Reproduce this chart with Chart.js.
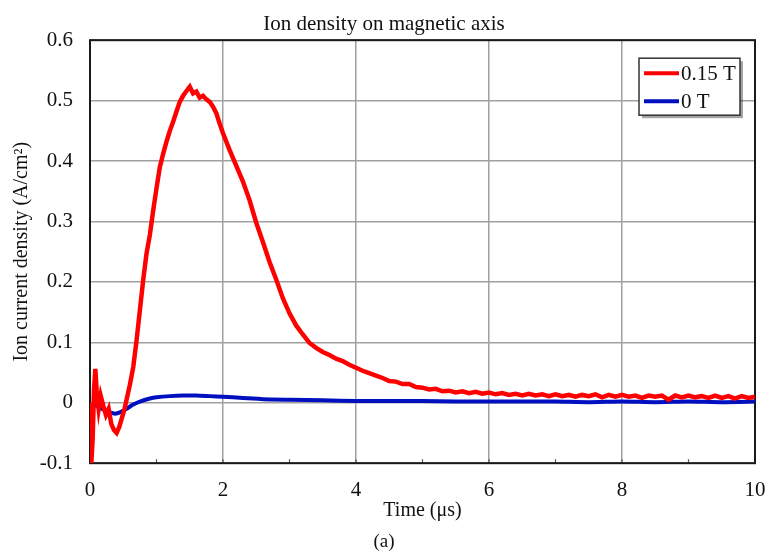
<!DOCTYPE html>
<html lang="en">
<head>
    <meta charset="UTF-8">
    <title>Ion density on magnetic axis</title>
    <script src="https://cdn.jsdelivr.net/npm/chart.js"></script>
    <style>
        body {
            margin: 0;
            background: white;
        }
        #wrap {
            width: 768px;
            height: 553px;
        }
    </style>
</head>
<body>
    <div id="wrap"><canvas id="ionChart"></canvas></div>

    <script>
        // 0.15 T trace (time in microseconds, current density in A/cm2)
        const timeRed = [
            0, 0.02, 0.04, 0.06, 0.08, 0.1, 0.13, 0.16, 0.2, 0.24, 0.28, 0.32, 0.36, 0.4, 0.44, 0.48,
            0.52, 0.56, 0.6, 0.65, 0.7, 0.75, 0.8, 0.85, 0.9, 0.95, 1.0, 1.05, 1.1, 1.15, 1.2, 1.25,
            1.3, 1.35, 1.4, 1.45, 1.5, 1.55, 1.6, 1.65, 1.7, 1.75, 1.8, 1.85, 1.9, 1.95, 2.0, 2.1,
            2.2, 2.3, 2.4, 2.5, 2.6, 2.7, 2.8, 2.9, 3.0, 3.1, 3.2, 3.3, 3.4, 3.5, 3.6, 3.7, 3.8, 3.9,
            4.0, 4.1, 4.2, 4.3, 4.4, 4.5, 4.6, 4.7, 4.8, 4.9, 5.0, 5.1, 5.2, 5.3, 5.4, 5.5, 5.6, 5.7,
            5.8, 5.9, 6.0, 6.1, 6.2, 6.3, 6.4, 6.5, 6.6, 6.7, 6.8, 6.9, 7.0, 7.1, 7.2, 7.3, 7.4, 7.5,
            7.6, 7.7, 7.8, 7.9, 8.0, 8.1, 8.2, 8.3, 8.4, 8.5, 8.6, 8.7, 8.8, 8.9, 9.0, 9.1, 9.2, 9.3,
            9.4, 9.5, 9.6, 9.7, 9.8, 9.9, 10.0
        ];
        const ionRed = [
            0.0, -0.1, -0.06, 0.02, 0.056, 0.02, -0.01, 0.012, -0.005, -0.02, -0.01, -0.035, -0.045, -0.05, -0.04, -0.025,
            -0.01, 0.01, 0.03, 0.059, 0.103, 0.153, 0.203, 0.247, 0.278, 0.318, 0.355, 0.39, 0.412, 0.432, 0.45, 0.465,
            0.482, 0.498, 0.508, 0.516, 0.523, 0.512, 0.515, 0.505, 0.508, 0.502, 0.498, 0.49, 0.479, 0.462, 0.446, 0.418,
            0.392, 0.366, 0.335, 0.298, 0.266, 0.233, 0.204, 0.173, 0.148, 0.128, 0.113, 0.099, 0.091, 0.084, 0.079, 0.073, 0.069, 0.063,
            0.058, 0.053, 0.049, 0.045, 0.041, 0.036, 0.035, 0.031, 0.031, 0.026, 0.025, 0.022, 0.023, 0.019, 0.020, 0.017, 0.019, 0.016,
            0.018, 0.015, 0.017, 0.014, 0.016, 0.013, 0.015, 0.012, 0.015, 0.012, 0.014, 0.011, 0.014, 0.011, 0.013, 0.010, 0.013, 0.011,
            0.014, 0.009, 0.013, 0.010, 0.013, 0.010, 0.012, 0.008, 0.012, 0.010, 0.012, 0.005, 0.012, 0.009, 0.012, 0.009, 0.011, 0.008,
            0.012, 0.008, 0.011, 0.007, 0.011, 0.008, 0.010
        ];

        // 0 T trace
        const timeBlue = [
            0, 0.03, 0.06, 0.1, 0.15, 0.2, 0.3, 0.38, 0.45, 0.55, 0.65, 0.75, 0.9, 1.0, 1.2, 1.4,
            1.6, 1.8, 2.0, 2.3, 2.6, 3.0, 3.5, 4.0, 4.5, 5.0, 5.5, 6.0, 6.5, 7.0, 7.5, 8.0, 8.5, 9.0, 9.5, 10.0
        ];
        const ionBlue = [
            -0.03, -0.012, -0.003, -0.005, -0.009, -0.011, -0.016, -0.018, -0.016, -0.01, -0.003, 0.002, 0.007, 0.009, 0.011, 0.012,
            0.012, 0.011, 0.010, 0.008, 0.006, 0.005, 0.004, 0.003, 0.003, 0.003, 0.002, 0.002, 0.002, 0.002, 0.001, 0.002, 0.001, 0.002, 0.001, 0.002
        ];

        const seriesLabels = ["0.15 T", "0 T"];
        const xTicks = [0, 2, 4, 6, 8, 10];
        const yTicks = [-0.1, 0, 0.1, 0.2, 0.3, 0.4, 0.5, 0.6];

        const serif = "'Liberation Serif', 'Times New Roman', serif";

        function toPoints(xs, ys) {
            return xs.map((x, i) => ({ x: x, y: ys[i] }));
        }

        // frame round the plot + small inner ticks on the time axis
        const framePlugin = {
            id: "frame",
            beforeDatasetsDraw(chart) {
                const { ctx, chartArea: a, scales } = chart;
                ctx.save();
                ctx.strokeStyle = "#555";
                ctx.lineWidth = 1.2;
                scales.x.ticks.forEach(t => {
                    const px = scales.x.getPixelForValue(t.value);
                    ctx.beginPath();
                    ctx.moveTo(px, a.bottom);
                    ctx.lineTo(px, a.bottom - 4);
                    ctx.stroke();
                });
                ctx.strokeStyle = "#1a1a1a";
                ctx.lineWidth = 2;
                ctx.strokeRect(a.left, a.top, a.right - a.left, a.bottom - a.top);
                ctx.restore();
            }
        };

        // boxed legend in the upper right of the plot
        const legendBox = {
            id: "legendBox",
            afterDatasetsDraw(chart) {
                const { ctx, chartArea: a } = chart;
                const x = a.right - 116, y = a.top + 18, w = 101, h = 57;
                ctx.save();
                ctx.fillStyle = "rgba(0,0,0,0.35)";
                ctx.fillRect(x + 3, y + 3, w, h);
                ctx.fillStyle = "white";
                ctx.fillRect(x, y, w, h);
                ctx.strokeStyle = "#333";
                ctx.lineWidth = 1.5;
                ctx.strokeRect(x, y, w, h);
                ctx.font = "21px " + serif;
                ctx.textBaseline = "middle";
                chart.data.datasets.forEach((ds, i) => {
                    const ly = y + 15 + i * 28;
                    ctx.strokeStyle = ds.borderColor;
                    ctx.lineWidth = 4;
                    ctx.beginPath();
                    ctx.moveTo(x + 5, ly);
                    ctx.lineTo(x + 40, ly);
                    ctx.stroke();
                    ctx.fillStyle = "#111";
                    ctx.fillText(ds.label, x + 42, ly + 1);
                });
                ctx.restore();
            }
        };

        const chart = new Chart(document.getElementById("ionChart"), {
            type: "line",
            data: {
                datasets: [
                    {
                        label: seriesLabels[0],
                        data: toPoints(timeRed, ionRed),
                        borderColor: "#ff0000",
                        borderWidth: 4.5,
                        pointRadius: 0,
                        tension: 0
                    },
                    {
                        label: seriesLabels[1],
                        data: toPoints(timeBlue, ionBlue),
                        borderColor: "#0010c0",
                        borderWidth: 4,
                        pointRadius: 0,
                        tension: 0.2
                    }
                ]
            },
            options: {
                responsive: true,
                maintainAspectRatio: false,
                animation: false,
                layout: { padding: { left: 0, right: 0, top: 0, bottom: 0 } },
                plugins: {
                    legend: { display: false },
                    tooltip: { enabled: false },
                    title: {
                        display: true,
                        text: "Ion density on magnetic axis",
                        color: "#111",
                        font: { family: serif, size: 21, weight: "normal" },
                        padding: { top: 12, bottom: 3 }
                    },
                    subtitle: {
                        display: true,
                        position: "bottom",
                        text: "(a)",
                        color: "#111",
                        font: { family: serif, size: 19, weight: "normal" },
                        padding: { top: 7, bottom: 0 }
                    }
                },
                scales: {
                    x: {
                        type: "linear",
                        min: 0,
                        max: 10,
                        afterFit: s => { s.height = 60; s.paddingRight = 13; },
                        afterBuildTicks: s => {
                            s.ticks = [];
                            for (let v = xTicks[0]; v <= xTicks[xTicks.length - 1]; v += 1) s.ticks.push({ value: v });
                        },
                        ticks: {
                            color: "#111",
                            padding: 15,
                            font: { family: serif, size: 21 },
                            callback: v => xTicks.includes(v) ? String(v) : ""
                        },
                        grid: {
                            drawTicks: false,
                            lineWidth: 1.5,
                            color: c => xTicks.includes(c.tick.value) ? "#a0a0a0" : "rgba(0,0,0,0)"
                        },
                        border: { display: false },
                        title: {
                            display: true,
                            text: "Time (μs)",
                            color: "#111",
                            font: { family: serif, size: 20 },
                            padding: { top: 0, bottom: 0 }
                        }
                    },
                    y: {
                        type: "linear",
                        min: yTicks[0],
                        max: yTicks[yTicks.length - 1],
                        afterFit: s => { s.width = 90; },
                        afterBuildTicks: s => { s.ticks = yTicks.map(v => ({ value: v })); },
                        ticks: {
                            color: "#111",
                            padding: 17,
                            font: { family: serif, size: 21 },
                            callback: v => String(Math.round(v * 10) / 10)
                        },
                        grid: {
                            drawTicks: false,
                            lineWidth: 1.5,
                            color: "#a0a0a0"
                        },
                        border: { display: false },
                        title: {
                            display: true,
                            text: "Ion current density (A/cm²)",
                            color: "#111",
                            font: { family: serif, size: 20 },
                            padding: { top: 10, bottom: 0 }
                        }
                    }
                }
            },
            plugins: [framePlugin, legendBox]
        });
    </script>
</body>
</html>
